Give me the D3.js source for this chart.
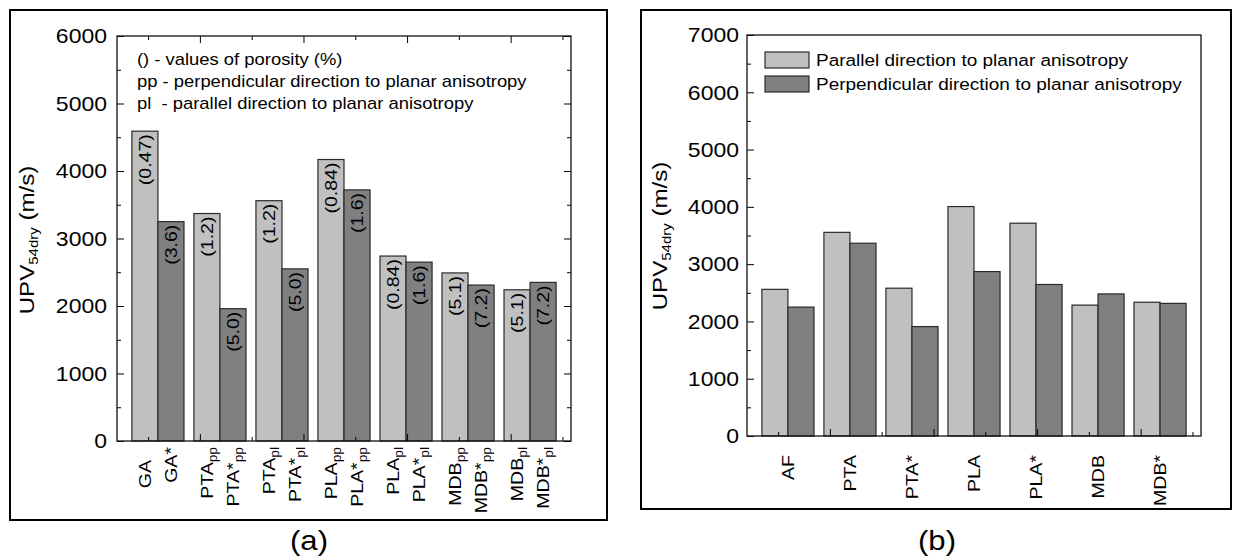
<!DOCTYPE html>
<html>
<head>
<meta charset="utf-8">
<script src="https://cdn.jsdelivr.net/npm/d3@7"></script>
<style>
  body { margin: 0; background: #fff; }
  text { font-family: "Liberation Sans", Arial, sans-serif; fill: #000; }
</style>
</head>
<body>
<script>
// ---- data, panel (a) ----
const groupsA = ["GA", "PTA_pp", "PTA_pl", "PLA_pp", "PLA_pl", "MDB_pp", "MDB_pl"];
const baseA = ["GA", "PTA", "PTA", "PLA", "PLA", "MDB", "MDB"];
const subA = ["", "pp", "pl", "pp", "pl", "pp", "pl"];
const plainA = [4590, 3370, 3560, 4170, 2740, 2490, 2240];   // light bars
const starA = [3250, 1960, 2550, 3720, 2650, 2310, 2350];    // dark bars (*)
const porPlainA = ["(0.47)", "(1.2)", "(1.2)", "(0.84)", "(0.84)", "(5.1)", "(5.1)"];
const porStarA = ["(3.6)", "(5.0)", "(5.0)", "(1.6)", "(1.6)", "(7.2)", "(7.2)"];
const notesA = [
  "() - values of porosity (%)",
  "pp - perpendicular direction to planar anisotropy",
  "pl  - parallel direction to planar anisotropy"
];
const yTicksA = [0, 1000, 2000, 3000, 4000, 5000, 6000];

// ---- data, panel (b) ----
const groupsB = ["AF", "PTA", "PTA*", "PLA", "PLA*", "MDB", "MDB*"];
const parallelB = [2560, 3555, 2580, 4005, 3715, 2285, 2335];
const perpB = [2250, 3365, 1910, 2870, 2645, 2480, 2315];
const seriesB = ["Parallel direction to planar anisotropy", "Perpendicular direction to planar anisotropy"];
const yTicksB = [0, 1000, 2000, 3000, 4000, 5000, 6000, 7000];

const xTickIdx = [0, 1, 2, 3, 4, 5, 6, 7, 8];   // bottom / top tick marks
const light = "#c0c0c0", dark = "#808080";
const SX = 1.15;  // the original font is drawn a bit wide

const svg = d3.select("body").append("svg")
    .attr("width", 1233)
    .attr("height", 558);

// outer boxes
svg.append("rect").attr("x", 10).attr("y", 10).attr("width", 597).attr("height", 510)
    .attr("fill", "none").attr("stroke", "#000").attr("stroke-width", 2);
svg.append("rect").attr("x", 641).attr("y", 10).attr("width", 590).attr("height", 499)
    .attr("fill", "none").attr("stroke", "#000").attr("stroke-width", 2);

// captions
svg.append("text").attr("transform", `translate(309,550) scale(${SX},1)`)
    .attr("text-anchor", "middle").attr("font-size", 27).text("(a)");
svg.append("text").attr("transform", `translate(937,550) scale(${SX},1)`)
    .attr("text-anchor", "middle").attr("font-size", 27).text("(b)");

// shared axes + frame
function axes(g, x0, x1, y, majors, tickScale, withTopRight, pad) {
    const yb = y.range()[0], yt = y.range()[1];
    const minors = d3.range(0, y.domain()[1], 500).filter(v => v % 1000 !== 0);

    const left = g.append("g").attr("transform", `translate(${x0},0)`)
        .call(d3.axisLeft(y).tickValues(majors).tickFormat(d3.format("d"))
            .tickSizeInner(-7).tickSizeOuter(0).tickPadding(pad));
    left.attr("font-size", 20);
    left.select(".domain").remove();
    left.selectAll("text").attr("x", -pad / SX).attr("dy", "0.34em").attr("transform", `scale(${SX},1)`);

    const leftMinor = g.append("g").attr("transform", `translate(${x0},0)`)
        .call(d3.axisLeft(y).tickValues(minors).tickSizeInner(-4).tickSizeOuter(0).tickFormat(() => ""));
    leftMinor.select(".domain").remove();

    const bottomMaj = g.append("g").attr("transform", `translate(0,${yb})`)
        .call(d3.axisBottom(tickScale).tickValues(xTickIdx.filter(d => d % 2 === 1)).tickSizeInner(-7).tickSizeOuter(0).tickFormat(() => ""));
    bottomMaj.select(".domain").remove();
    const bottomMin = g.append("g").attr("transform", `translate(0,${yb})`)
        .call(d3.axisBottom(tickScale).tickValues(xTickIdx.filter(d => d % 2 === 0)).tickSizeInner(-4).tickSizeOuter(0).tickFormat(() => ""));
    bottomMin.select(".domain").remove();

    if (withTopRight) {
        const right = g.append("g").attr("transform", `translate(${x1},0)`)
            .call(d3.axisRight(y).tickValues(majors).tickSizeInner(-7).tickSizeOuter(0).tickFormat(() => ""));
        right.select(".domain").remove();
        const rightMinor = g.append("g").attr("transform", `translate(${x1},0)`)
            .call(d3.axisRight(y).tickValues(minors).tickSizeInner(-4).tickSizeOuter(0).tickFormat(() => ""));
        rightMinor.select(".domain").remove();
        const topMaj = g.append("g").attr("transform", `translate(0,${yt})`)
            .call(d3.axisTop(tickScale).tickValues(xTickIdx.filter(d => d % 2 === 1)).tickSizeInner(-7).tickSizeOuter(0).tickFormat(() => ""));
        topMaj.select(".domain").remove();
        const topMin = g.append("g").attr("transform", `translate(0,${yt})`)
            .call(d3.axisTop(tickScale).tickValues(xTickIdx.filter(d => d % 2 === 0)).tickSizeInner(-4).tickSizeOuter(0).tickFormat(() => ""));
        topMin.select(".domain").remove();
    }

    g.append("rect").attr("x", x0).attr("y", yt).attr("width", x1 - x0).attr("height", yb - yt)
        .attr("fill", "none").attr("stroke", "#111").attr("stroke-width", 1.3);
}

function yTitle(g, x, y) {
    const t = g.append("text")
        .attr("transform", `translate(${x},${y}) rotate(-90) scale(${SX},1)`)
        .attr("text-anchor", "middle").attr("font-size", 21);
    t.append("tspan").text("UPV");
    t.append("tspan").attr("font-size", 13).attr("dy", 4).text("54dry");
    t.append("tspan").attr("dy", -4).text(" (m/s)");
}

// ================= panel (a) =================
const gA = svg.append("g");
const yA = d3.scaleLinear().domain([0, 6000]).range([441, 36]);
const xA = d3.scaleBand().domain(groupsA).range([117, 571]).paddingInner(0.16).paddingOuter(0.24);
const xA1 = d3.scaleBand().domain([0, 1]).range([0, xA.bandwidth()]);
const tA = d3.scaleLinear().domain([-0.6, 8.165]).range([117, 571]);

const barsA = groupsA.flatMap((g, i) => [
    { g, k: 0, v: plainA[i], por: porPlainA[i], label: baseA[i], sub: subA[i] },
    { g, k: 1, v: starA[i], por: porStarA[i], label: baseA[i] + "*", sub: subA[i] }
]);

gA.selectAll(".bar").data(barsA).enter().append("rect")
    .attr("x", d => xA(d.g) + xA1(d.k))
    .attr("y", d => yA(d.v))
    .attr("width", xA1.bandwidth())
    .attr("height", d => yA(0) - yA(d.v))
    .attr("fill", d => d.k === 0 ? light : dark)
    .attr("stroke", "#2a2a2a").attr("stroke-width", 1.2);

// porosity inside bars
gA.selectAll(".por").data(barsA).enter().append("text")
    .attr("transform", d => `translate(${xA(d.g) + xA1(d.k) + xA1.bandwidth() / 2},${yA(d.v) + 3}) rotate(-90) scale(${SX},1)`)
    .attr("text-anchor", "end").attr("dy", "0.35em").attr("font-size", 17)
    .text(d => d.por);

axes(gA, 117, 571, yA, yTicksA, tA, true, 10);

// x labels (a)
const labA = gA.selectAll(".lab").data(barsA).enter().append("text")
    .attr("transform", d => {
        const end = (d.sub === "" && d.k === 0) ? 460 : 447;
        return `translate(${xA(d.g) + xA1(d.k) + xA1.bandwidth() / 2},${end}) rotate(-90) scale(${SX},1)`;
    })
    .attr("text-anchor", "end").attr("dy", "0.35em").attr("font-size", 17);
labA.append("tspan").text(d => d.label);
labA.filter(d => d.sub !== "").append("tspan").attr("font-size", 12).attr("dy", 4).text(d => d.sub);

// notes
gA.selectAll(".note").data(notesA).enter().append("text")
    .attr("transform", (d, i) => `translate(137,${65 + i * 22}) scale(${SX},1)`)
    .attr("font-size", 16).attr("xml:space", "preserve")
    .text(d => d);

yTitle(gA, 34, 240);

// ================= panel (b) =================
const gB = svg.append("g");
const yB = d3.scaleLinear().domain([0, 7000]).range([436, 35]);
const xB = d3.scaleBand().domain(groupsB).range([747, 1201]).paddingInner(0.16).paddingOuter(0.24);
const xB1 = d3.scaleBand().domain([0, 1]).range([0, xB.bandwidth()]);
const tB = d3.scaleLinear().domain([-0.6, 8.165]).range([747, 1201]);

const barsB = groupsB.flatMap((g, i) => [
    { g, k: 0, v: parallelB[i] },
    { g, k: 1, v: perpB[i] }
]);

gB.selectAll(".bar").data(barsB).enter().append("rect")
    .attr("x", d => xB(d.g) + xB1(d.k))
    .attr("y", d => yB(d.v))
    .attr("width", xB1.bandwidth())
    .attr("height", d => yB(0) - yB(d.v))
    .attr("fill", d => d.k === 0 ? light : dark)
    .attr("stroke", "#2a2a2a").attr("stroke-width", 1.2);

axes(gB, 747, 1201, yB, yTicksB, tB, false, 8);

gB.selectAll(".lab").data(groupsB).enter().append("text")
    .attr("transform", d => `translate(${xB(d) + xB.bandwidth() / 2},455) rotate(-90) scale(${SX},1)`)
    .attr("text-anchor", "end").attr("dy", "0.35em").attr("font-size", 17)
    .text(d => d);

// legend
const leg = gB.selectAll(".leg").data(seriesB).enter().append("g")
    .attr("transform", (d, i) => `translate(765,${52 + i * 24})`);
leg.append("rect").attr("width", 44).attr("height", 16)
    .attr("fill", (d, i) => i === 0 ? light : dark)
    .attr("stroke", "#2a2a2a").attr("stroke-width", 1.2);
leg.append("text").attr("transform", `translate(51,14) scale(${SX},1)`)
    .attr("font-size", 16.5).text(d => d);

yTitle(gB, 667, 236);
</script>
</body>
</html>
